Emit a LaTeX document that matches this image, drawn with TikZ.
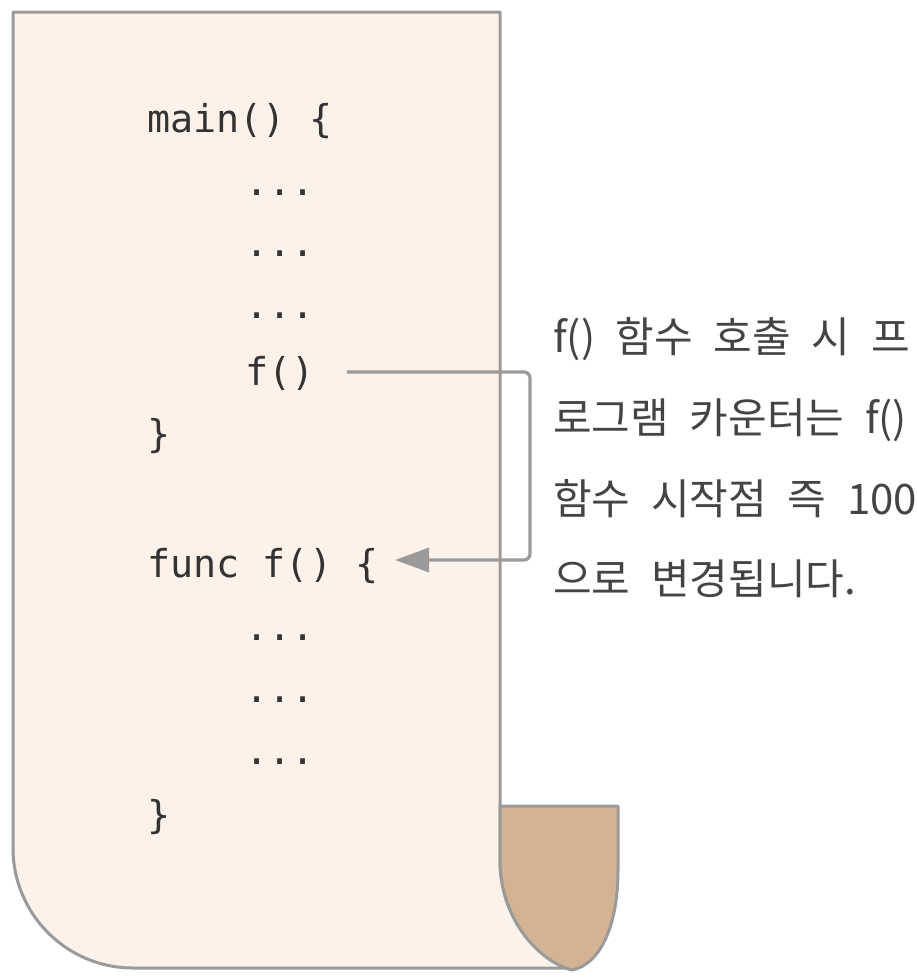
\documentclass[tikz,border=0pt]{standalone}
\usepackage{fontspec}
\setmonofont{DejaVu Sans Mono}
\newfontfamily\krfont[WordSpace=2.2]{Noto Sans CJK KR}
\usetikzlibrary{arrows.meta}
\definecolor{paper}{HTML}{FCF2EA}
\definecolor{flap}{HTML}{D4B394}
\definecolor{edge}{HTML}{9A9A9A}
\definecolor{codec}{HTML}{333333}
\definecolor{txtc}{HTML}{444444}
\tikzset{
  code/.style={anchor=base west, inner sep=0pt, font=\ttfamily\fontsize{38.4}{40}\selectfont, text=codec},
  note/.style={anchor=base west, inner sep=0pt, font=\krfont\fontsize{42}{44}\selectfont, text=txtc},
  outline/.style={draw=edge, line width=3pt, line join=round},
  link/.style={draw=edge, line width=3.2pt, rounded corners=6pt, -{Triangle[length=34pt,width=24pt]}}
}
\begin{document}
\begin{tikzpicture}[x=1pt,y=-1pt]
\useasboundingbox (0,0) rectangle (916,980);
% paper
\path[outline, fill=paper] (13,12) -- (500,12) -- (500,860)
  .. controls (500,920) and (540,962) .. (572,968)
  -- (133,968) arc[start angle=90, end angle=180, radius=120] -- cycle;
% curl flap
\path[outline, fill=flap] (500,806) -- (618,806) -- (618,870)
  .. controls (618,930) and (598,965) .. (572,970)
  .. controls (540,962) and (500,920) .. (500,860) -- cycle;
% code
\node[code] (main) at (147,132) {main() \{};
\node[code] (d1) at (245,195) {...};
\node[code] (d2) at (245,256) {...};
\node[code] (d3) at (245,318) {...};
\node[code] (fcall) at (245,385) {f()};
\node[code] (c1) at (147,447) {\}};
\node[code] (func) at (147,577) {func f() \{};
\node[code] (d4) at (245,640) {...};
\node[code] (d5) at (245,702) {...};
\node[code] (d6) at (245,764) {...};
\node[code] (c2) at (147,828) {\}};
% note
\node[note] (n1) at (553,352) {f() 함수 호출 시 프};
\node[note] (n2) at (553,433) {로그램 카운터는 f()};
\node[note] (n3) at (553,514) {함수 시작점 즉 100};
\node[note] (n4) at (553,594) {으로 변경됩니다.};
% connector
\coordinate (s) at ([xshift=32pt]fcall.east |- 0,372);
\coordinate (e) at (395,560);
\draw[link] (s) -- (530,372) -- (530,560) -- (e);
\end{tikzpicture}
\end{document}
